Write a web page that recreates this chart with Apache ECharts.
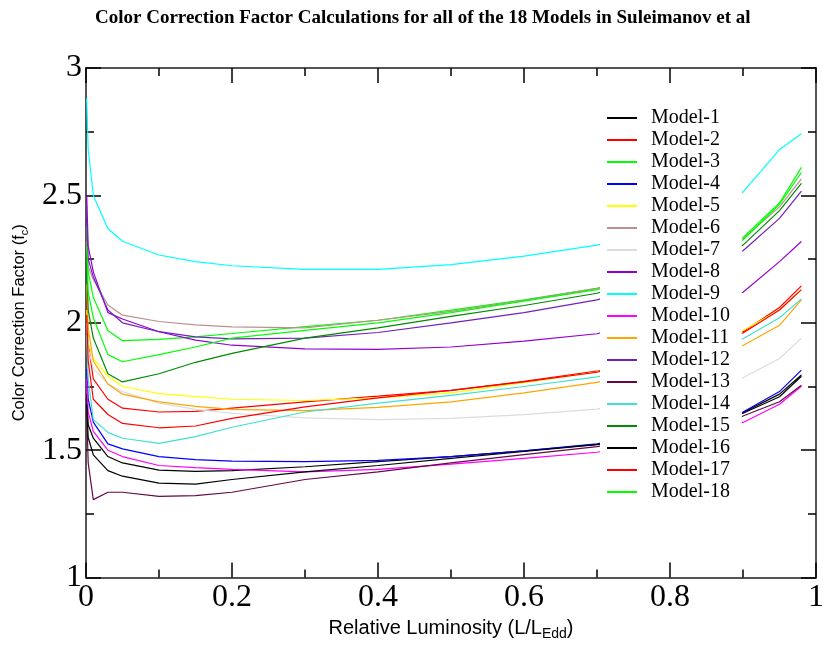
<!DOCTYPE html>
<html>
<head>
<meta charset="utf-8">
<script src="https://cdn.jsdelivr.net/npm/echarts@6/dist/echarts.min.js"></script>
<style>
  html, body { margin: 0; padding: 0; background: #fff; }
  #chart { width: 827px; height: 646px; }
</style>
</head>
<body>
<div id="chart"></div>
<script>
// luminosity grid (L/LEdd)
var lum = [0.001, 0.003, 0.01, 0.03, 0.05, 0.1, 0.15, 0.2, 0.3, 0.4, 0.5, 0.6, 0.7, 0.8, 0.9, 0.95, 0.98];

// color correction factor per model
var model1  = [1.72, 1.60, 1.547, 1.475, 1.45, 1.422, 1.417, 1.42, 1.435, 1.455, 1.475, 1.497, 1.523, 1.575, 1.648, 1.72, 1.795];
var model2  = [2.10, 1.92, 1.78, 1.70, 1.665, 1.65, 1.652, 1.665, 1.69, 1.712, 1.735, 1.77, 1.81, 1.88, 1.965, 2.06, 2.145];
var model3  = [2.38, 2.20, 2.10, 1.97, 1.93, 1.935, 1.945, 1.958, 1.985, 2.01, 2.05, 2.09, 2.135, 2.22, 2.335, 2.47, 2.61];
var model4  = [1.82, 1.70, 1.61, 1.525, 1.505, 1.475, 1.463, 1.457, 1.455, 1.46, 1.475, 1.497, 1.525, 1.58, 1.65, 1.73, 1.814];
var model5  = [2.05, 1.92, 1.86, 1.79, 1.75, 1.722, 1.71, 1.70, 1.695, 1.705, 1.725, 1.765, 1.807, 1.88, 1.97, 2.05, 2.13];
var model6  = [2.32, 2.22, 2.17, 2.07, 2.03, 2.005, 1.992, 1.984, 1.98, 2.01, 2.045, 2.088, 2.135, 2.22, 2.33, 2.455, 2.565];
var model7  = [2.00, 1.90, 1.82, 1.76, 1.73, 1.685, 1.66, 1.645, 1.627, 1.62, 1.625, 1.64, 1.661, 1.715, 1.784, 1.86, 1.94];
var model8  = [2.50, 2.30, 2.20, 2.04, 2.015, 1.965, 1.932, 1.912, 1.898, 1.896, 1.905, 1.928, 1.957, 2.03, 2.12, 2.24, 2.319];
var model9  = [2.88, 2.68, 2.50, 2.37, 2.32, 2.266, 2.24, 2.224, 2.21, 2.21, 2.228, 2.262, 2.305, 2.39, 2.513, 2.68, 2.742];
var model10 = [1.78, 1.65, 1.574, 1.50, 1.475, 1.44, 1.432, 1.425, 1.415, 1.425, 1.445, 1.468, 1.492, 1.545, 1.609, 1.68, 1.751];
var model11 = [2.15, 1.98, 1.85, 1.76, 1.72, 1.69, 1.672, 1.66, 1.655, 1.668, 1.69, 1.725, 1.766, 1.83, 1.911, 1.99, 2.09];
var model12 = [2.41, 2.25, 2.18, 2.05, 2.00, 1.965, 1.945, 1.937, 1.94, 1.962, 2.0, 2.04, 2.09, 2.17, 2.283, 2.41, 2.517];
var model13 = [1.65, 1.45, 1.306, 1.335, 1.335, 1.319, 1.322, 1.335, 1.385, 1.415, 1.45, 1.483, 1.514, 1.565, 1.634, 1.69, 1.755];
var model14 = [1.95, 1.78, 1.62, 1.57, 1.547, 1.527, 1.553, 1.59, 1.65, 1.685, 1.715, 1.75, 1.788, 1.85, 1.9375, 2.02, 2.094];
var model15 = [2.25, 2.05, 1.94, 1.80, 1.768, 1.80, 1.845, 1.88, 1.94, 1.98, 2.025, 2.068, 2.116, 2.2, 2.305, 2.44, 2.547];
var model16 = [1.68, 1.55, 1.482, 1.42, 1.398, 1.371, 1.367, 1.385, 1.415, 1.44, 1.468, 1.495, 1.522, 1.575, 1.645, 1.71, 1.79];
var model17 = [2.03, 1.85, 1.70, 1.64, 1.605, 1.588, 1.595, 1.625, 1.67, 1.705, 1.735, 1.768, 1.806, 1.88, 1.96, 2.05, 2.13];
var model18 = [2.30, 2.12, 2.02, 1.875, 1.847, 1.875, 1.905, 1.94, 1.97, 2.0, 2.04, 2.085, 2.13, 2.215, 2.325, 2.465, 2.59];

var names = ['Model-1','Model-2','Model-3','Model-4','Model-5','Model-6','Model-7','Model-8','Model-9',
             'Model-10','Model-11','Model-12','Model-13','Model-14','Model-15','Model-16','Model-17','Model-18'];
var models = [model1, model2, model3, model4, model5, model6, model7, model8, model9,
              model10, model11, model12, model13, model14, model15, model16, model17, model18];
// grace default palette
var colors = ['#000000','#ff0000','#00ff00','#0000ff','#ffff00','#bc8f8f','#dcdcdc','#9400d3','#00ffff',
              '#ff00ff','#ffa500','#7221bc','#670748','#40e0d0','#008b00','#000000','#ff0000','#00ff00'];

var serif = 'Liberation Serif';
var sans = 'Liberation Sans';

var series = models.map(function(arr, k){
  return {
    name: names[k],
    type: 'line',
    showSymbol: false,
    color: colors[k],
    lineStyle: { width: 1.2, color: colors[k] },
    data: lum.map(function(x, i){ return [x, arr[i]]; })
  };
});

var tickCommon = {
  axisLine: { show: true, onZero: false, lineStyle: { color: '#555', width: 2 } },
  axisTick: { show: true, inside: true, length: 15, lineStyle: { color: '#000', width: 1.5 } },
  minorTick: { show: true, splitNumber: 2, length: 8, lineStyle: { color: '#000', width: 1.5 } },
  splitLine: { show: false },
  minorSplitLine: { show: false }
};

var chart = echarts.init(document.getElementById('chart'));
chart.setOption({
  animation: false,
  backgroundColor: '#fff',
  title: {
    text: 'Color Correction Factor Calculations for all of the 18 Models in Suleimanov et al',
    left: 90,
    top: 4,
    textStyle: { fontFamily: serif, fontWeight: 'bold', fontSize: 19, color: '#000' }
  },
  grid: { left: 86, right: 7, top: 68, bottom: 66 },
  legend: {
    orient: 'vertical',
    left: 600,
    top: 98,
    padding: [10, 12, 10, 7],
    backgroundColor: '#fff',
    icon: 'rect',
    itemWidth: 30,
    itemHeight: 2,
    itemGap: 2,
    data: names,
    textStyle: { fontFamily: serif, fontSize: 20, color: '#000', lineHeight: 20, padding: [0, 0, 0, 9] }
  },
  xAxis: [
    Object.assign({
      type: 'value', min: 0, max: 1, interval: 0.2, position: 'bottom',
      name: 'Relative Luminosity (L/L{sub|Edd})',
      nameLocation: 'middle',
      nameGap: 38,
      nameTextStyle: {
        fontFamily: sans, fontSize: 20, color: '#000',
        rich: { sub: { fontFamily: sans, fontSize: 14, color: '#000', padding: [11, 0, 0, 0] } }
      },
      axisLabel: { fontFamily: serif, fontSize: 32, color: '#000', margin: 4 }
    }, tickCommon),
    Object.assign({
      type: 'value', min: 0, max: 1, interval: 0.2, position: 'top',
      axisLabel: { show: false }
    }, tickCommon)
  ],
  yAxis: [
    Object.assign({
      type: 'value', min: 1, max: 3, interval: 0.5, position: 'left',
      name: 'Color Correction Factor (f{sub|c})',
      nameLocation: 'middle',
      nameGap: 56,
      nameTextStyle: {
        fontFamily: sans, fontSize: 16.5, color: '#000',
        rich: { sub: { fontFamily: sans, fontSize: 11, color: '#000', padding: [10, 0, 0, 0] } }
      },
      axisLabel: { fontFamily: serif, fontSize: 32, color: '#000', margin: 4 }
    }, tickCommon),
    Object.assign({
      type: 'value', min: 1, max: 3, interval: 0.5, position: 'right',
      axisLabel: { show: false }
    }, tickCommon)
  ],
  series: series
});
</script>
</body>
</html>
